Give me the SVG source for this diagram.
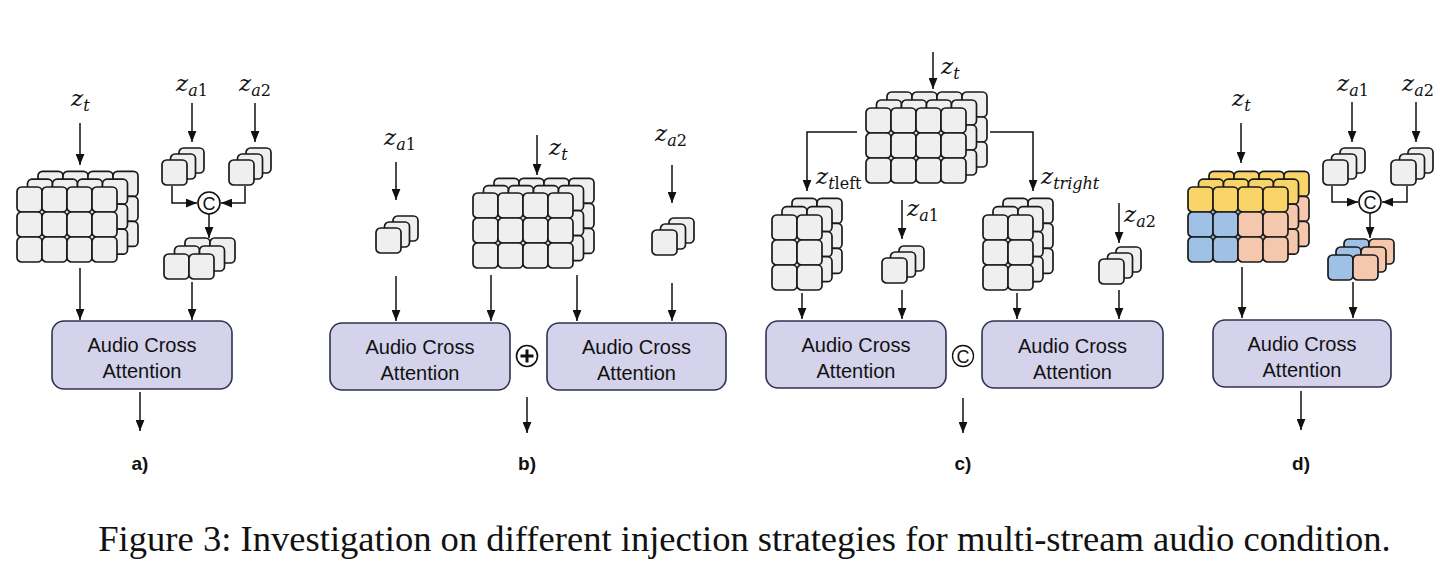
<svg xmlns="http://www.w3.org/2000/svg" xmlns:xlink="http://www.w3.org/1999/xlink" width="1454" height="564" viewBox="0 0 1454 564">
<style>
.cell{fill:#efefef;stroke:#1a1a1a;stroke-width:1.7}
.y{fill:#f8d469}.b{fill:#9fc1e5}.p{fill:#f5c7ac}
.box{fill:#d4d3eb;stroke:#2c3350;stroke-width:1.6}
.bt{font-family:"Liberation Sans",Arial,sans-serif;font-size:20px;fill:#111;text-anchor:middle}
.lbl{font-family:"Liberation Sans",Arial,sans-serif;font-size:19px;font-weight:bold;fill:#111;text-anchor:middle}
.m{font-family:"DejaVu Serif",serif;font-style:italic;font-size:23px;fill:#111}
.s{font-size:16px}
.u{font-style:normal}
.ln{fill:none;stroke:#111;stroke-width:1.5}
.op{fill:#fff;stroke:#111;stroke-width:1.6}
.ot{font-family:"Liberation Sans",Arial,sans-serif;font-size:18px;fill:#111;text-anchor:middle}
.cap{font-family:"Liberation Serif","Times New Roman",serif;font-size:36.6px;fill:#111;text-anchor:middle}
</style>
<defs>
<marker id="ah" viewBox="0 0 10 8" refX="10" refY="4" markerWidth="11" markerHeight="9" markerUnits="userSpaceOnUse" orient="auto"><path d="M0,0 L10,4 L0,8 z" fill="#111"/></marker>
<rect id="c" width="25" height="25" rx="4.5"/>
<g id="L43">
<use href="#c" x="0" y="0"/><use href="#c" x="25" y="0"/><use href="#c" x="50" y="0"/><use href="#c" x="75" y="0"/>
<use href="#c" x="0" y="25"/><use href="#c" x="25" y="25"/><use href="#c" x="50" y="25"/><use href="#c" x="75" y="25"/>
<use href="#c" x="0" y="50"/><use href="#c" x="25" y="50"/><use href="#c" x="50" y="50"/><use href="#c" x="75" y="50"/>
</g>
<g id="L23">
<use href="#c" x="0" y="0"/><use href="#c" x="25" y="0"/>
<use href="#c" x="0" y="25"/><use href="#c" x="25" y="25"/>
<use href="#c" x="0" y="50"/><use href="#c" x="25" y="50"/>
</g>
<g id="L21"><use href="#c" x="0" y="0"/><use href="#c" x="25" y="0"/></g>
<g id="L43d">
<use href="#c" x="0" y="0" class="y"/><use href="#c" x="25" y="0" class="y"/><use href="#c" x="50" y="0" class="y"/><use href="#c" x="75" y="0" class="y"/>
<use href="#c" x="0" y="25" class="b"/><use href="#c" x="25" y="25" class="b"/><use href="#c" x="50" y="25" class="p"/><use href="#c" x="75" y="25" class="p"/>
<use href="#c" x="0" y="50" class="b"/><use href="#c" x="25" y="50" class="b"/><use href="#c" x="50" y="50" class="p"/><use href="#c" x="75" y="50" class="p"/>
</g>
<g id="L21d"><use href="#c" x="0" y="0" class="b"/><use href="#c" x="25" y="0" class="p"/></g>
<g id="S1"><use href="#c" x="17" y="-12"/><use href="#c" x="8.5" y="-6"/><use href="#c"/></g>
</defs>
<rect width="1454" height="564" fill="#fff"/>

<!-- Panel a -->
<g id="a-zt"><text class="m" x="71" y="106">z<tspan class="s" dy="5">t</tspan></text></g>
<g id="a-za1"><text class="m" x="176" y="91">z<tspan class="s" dy="5">a</tspan><tspan class="s u">1</tspan></text></g>
<g id="a-za2"><text class="m" x="239" y="91">z<tspan class="s" dy="5">a</tspan><tspan class="s u">2</tspan></text></g>
<g id="a-cube" class="cell" transform="translate(17,187)"><use href="#L43" x="21" y="-15.6"/><use href="#L43" x="10.5" y="-7.8"/><use href="#L43"/></g>
<g id="a-s1" class="cell" transform="translate(162,160)"><use href="#S1"/></g>
<g id="a-s2" class="cell" transform="translate(229,160)"><use href="#S1"/></g>
<g id="a-cat"><circle class="op" cx="209" cy="203" r="11"/><text class="ot" x="209" y="209.5">C</text></g>
<g id="a-merged" class="cell" transform="translate(164,254)"><use href="#L21" x="21" y="-16"/><use href="#L21" x="10.5" y="-8"/><use href="#L21"/></g>
<g id="a-box"><rect class="box" x="52" y="321" width="180" height="68" rx="12"/><text class="bt" x="142" y="352">Audio Cross</text><text class="bt" x="142" y="378">Attention</text></g>
<g id="a-label"><text class="lbl" x="140" y="470">a)</text></g>

<!-- Panel b -->
<g id="b-za1"><text class="m" x="384" y="145">z<tspan class="s" dy="5">a</tspan><tspan class="s u">1</tspan></text></g>
<g id="b-zt"><text class="m" x="549" y="155">z<tspan class="s" dy="5">t</tspan></text></g>
<g id="b-za2"><text class="m" x="655" y="141">z<tspan class="s" dy="5">a</tspan><tspan class="s u">2</tspan></text></g>
<g id="b-s1" class="cell" transform="translate(376,228)"><use href="#S1"/></g>
<g id="b-cube" class="cell" transform="translate(473,193)"><use href="#L43" x="21" y="-14.6"/><use href="#L43" x="10.5" y="-7.3"/><use href="#L43"/></g>
<g id="b-s2" class="cell" transform="translate(652,230)"><use href="#S1"/></g>
<g id="b-box1"><rect class="box" x="330" y="323" width="180" height="67" rx="12"/><text class="bt" x="420" y="354">Audio Cross</text><text class="bt" x="420" y="380">Attention</text></g>
<g id="b-box2"><rect class="box" x="547" y="323" width="179" height="67" rx="12"/><text class="bt" x="636.5" y="354">Audio Cross</text><text class="bt" x="636.5" y="380">Attention</text></g>
<g id="b-add"><circle class="op" cx="527" cy="356" r="10.5" stroke-width="2"/><path d="M520.5,356 H533.5 M527,349.5 V362.5" stroke="#111" stroke-width="3"/></g>
<g id="b-label"><text class="lbl" x="527" y="470">b)</text></g>

<!-- Panel c -->
<g id="c-zt"><text class="m" x="941" y="74">z<tspan class="s" dy="5">t</tspan></text></g>
<g id="c-cube" class="cell" transform="translate(866,108)"><use href="#L43" x="21" y="-16"/><use href="#L43" x="10.5" y="-8"/><use href="#L43"/></g>
<g id="c-ztl"><text class="m" x="816" y="184">z<tspan class="s" dy="5">t</tspan><tspan class="s u">left</tspan></text></g>
<g id="c-ztr"><text class="m" x="1041" y="184">z<tspan class="s" dy="5">tright</tspan></text></g>
<g id="c-left" class="cell" transform="translate(772,215)"><use href="#L23" x="20" y="-16.6"/><use href="#L23" x="10" y="-8.3"/><use href="#L23"/></g>
<g id="c-right" class="cell" transform="translate(983,215)"><use href="#L23" x="20" y="-16.6"/><use href="#L23" x="10" y="-8.3"/><use href="#L23"/></g>
<g id="c-za1"><text class="m" x="907" y="216">z<tspan class="s" dy="5">a</tspan><tspan class="s u">1</tspan></text></g>
<g id="c-za2"><text class="m" x="1124" y="222">z<tspan class="s" dy="5">a</tspan><tspan class="s u">2</tspan></text></g>
<g id="c-s1" class="cell" transform="translate(882,258)"><use href="#S1"/></g>
<g id="c-s2" class="cell" transform="translate(1099,259)"><use href="#S1"/></g>
<g id="c-box1"><rect class="box" x="766" y="321" width="180" height="67" rx="12"/><text class="bt" x="856" y="352">Audio Cross</text><text class="bt" x="856" y="378">Attention</text></g>
<g id="c-box2"><rect class="box" x="982" y="321" width="181" height="67" rx="12"/><text class="bt" x="1072.5" y="353">Audio Cross</text><text class="bt" x="1072.5" y="379">Attention</text></g>
<g id="c-cat"><circle cx="963" cy="356" r="10.5" fill="#fff" stroke="#111" stroke-width="1.3"/><text class="ot" x="963" y="362.5">C</text></g>
<g id="c-label"><text class="lbl" x="963" y="470">c)</text></g>

<!-- Panel d -->
<g id="d-zt"><text class="m" x="1232" y="106">z<tspan class="s" dy="5">t</tspan></text></g>
<g id="d-za1"><text class="m" x="1337" y="91">z<tspan class="s" dy="5">a</tspan><tspan class="s u">1</tspan></text></g>
<g id="d-za2"><text class="m" x="1402" y="91">z<tspan class="s" dy="5">a</tspan><tspan class="s u">2</tspan></text></g>
<g id="d-cube" class="cell" transform="translate(1188,187)"><use href="#L43d" x="21" y="-15.6"/><use href="#L43d" x="10.5" y="-7.8"/><use href="#L43d"/></g>
<g id="d-s1" class="cell" transform="translate(1323,160)"><use href="#S1"/></g>
<g id="d-s2" class="cell" transform="translate(1391,160)"><use href="#S1"/></g>
<g id="d-cat"><circle class="op" cx="1370" cy="202" r="11"/><text class="ot" x="1370" y="208.5">C</text></g>
<g id="d-merged" class="cell" transform="translate(1328,255)"><use href="#L21d" x="16" y="-16"/><use href="#L21d" x="8" y="-8"/><use href="#L21d"/></g>
<g id="d-box"><rect class="box" x="1213" y="320" width="178" height="67" rx="12"/><text class="bt" x="1302" y="351">Audio Cross</text><text class="bt" x="1302" y="377">Attention</text></g>
<g id="d-label"><text class="lbl" x="1301" y="470">d)</text></g>

<!-- Connectors -->
<g id="connectors" class="ln" marker-end="url(#ah)">
<path d="M80,123 V165"/><path d="M192,103 V142"/><path d="M255,103 V142"/>
<path d="M172,186 V203 H197"/><path d="M245,186 V203 H221"/>
<path d="M209,214 V238"/><path d="M80,268 V320"/><path d="M192,282 V320"/><path d="M140,392 V431"/>

<path d="M396,162 V200"/><path d="M396,276 V321"/><path d="M537,135 V175"/>
<path d="M491,275 V321"/><path d="M577,275 V321"/><path d="M672,165 V203"/><path d="M672,283 V321"/>
<path d="M527,397 V433"/>

<path d="M933,52 V89"/><path d="M857,132 H807 V191"/><path d="M990,132 H1033 V191"/>
<path d="M902,200 V239"/><path d="M1119,203 V243"/>
<path d="M802,293 V319"/><path d="M902,290 V319"/><path d="M1017,293 V319"/><path d="M1119,290 V319"/>
<path d="M963,398 V433"/>

<path d="M1241,123 V163"/><path d="M1352,102 V142"/><path d="M1416,102 V142"/>
<path d="M1332,186 V202 H1358"/><path d="M1407,186 V202 H1382"/>
<path d="M1370,213 V238"/><path d="M1242,267 V318"/><path d="M1353,282 V318"/><path d="M1301,391 V430"/>
</g>

<text class="cap" x="744.5" y="551">Figure 3: Investigation on different injection strategies for multi-stream audio condition.</text>
</svg>
